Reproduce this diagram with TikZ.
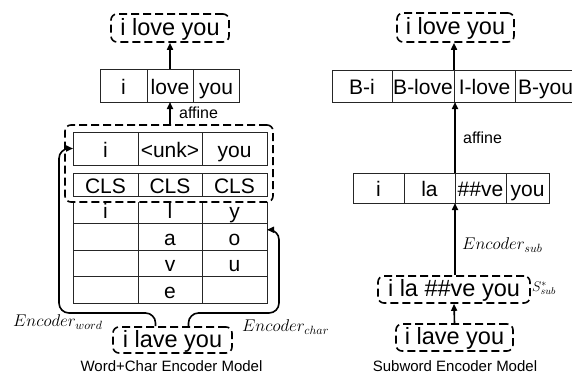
\documentclass[tikz,border=0pt]{standalone}
\usepackage{fix-cm}
\usepackage{fontspec}
\setmainfont{Liberation Sans}
\usepackage{tikz}
\usetikzlibrary{arrows.meta, positioning, calc}

\newcommand{\cellfont}{\fontsize{21}{22}\selectfont}
\newcommand{\boxfont}{\fontsize{23.5}{24}\selectfont}
\newcommand{\lblfont}{\fontsize{16}{17}\selectfont}
\newcommand{\encfont}{\fontsize{17}{18}\selectfont}

\begin{document}
\begin{tikzpicture}[x=1pt, y=-1pt,
    cell/.style={draw=black!85, line width=0.8pt, inner sep=0pt, outer sep=0pt, minimum height=33pt, text height=17pt, text depth=0pt, font=\cellfont},
    dbox/.style={draw, line width=1.6pt, dash pattern=on 8pt off 4pt, rounded corners=6pt, inner sep=0pt, text height=17pt, text depth=3pt, font=\boxfont},
    arr/.style={-{Triangle[length=7pt, width=6pt]}, line width=1.6pt},
    title/.style={font=\fontsize{15}{16}\selectfont},
    enc/.style={font=\encfont, inner sep=0pt},
]
\useasboundingbox (0,0) rectangle (572,373);

% word + char encoder
\node[dbox, minimum width=118pt, minimum height=28pt] (lout) at (170,28) {i love you};
\node[cell, minimum width=47pt, anchor=north west] (wa) at (100,69) {i};
\node[cell, minimum width=46pt, right=0pt of wa] (wb) {love};
\node[cell, minimum width=46pt, right=0pt of wb] (wc) {you};

\foreach \row/\ga/\gb/\gc in {1/i/l/y, 2/{}/a/o, 3/{}/v/u, 4/{}/e/{}} {
  \node[cell, minimum width=65pt, minimum height=26.5pt, anchor=north west] (c\row1) at (73,{197+(\row-1)*26.5}) {\ga};
  \node[cell, minimum width=64pt, minimum height=26.5pt, right=0pt of c\row1] (c\row2) {\gb};
  \node[cell, minimum width=65pt, minimum height=26.5pt, right=0pt of c\row2] (c\row3) {\gc};
}

\node[dbox, fill=white, minimum width=208pt, minimum height=77pt] (grp) at (169,163.5) {};
\node[cell, minimum width=65pt, anchor=north west] (ra) at (73,132) {i};
\node[cell, minimum width=64pt, right=0pt of ra] (rb) {<unk>};
\node[cell, minimum width=65pt, right=0pt of rb] (rc) {you};
\node[cell, minimum width=65pt, minimum height=23pt, anchor=north west] (sa) at (73,173) {CLS};
\node[cell, minimum width=64pt, minimum height=23pt, right=0pt of sa] (sb) {CLS};
\node[cell, minimum width=65pt, minimum height=23pt, right=0pt of sb] (sc) {CLS};

\node[dbox, minimum width=119pt, minimum height=26pt] (lin) at (172.5,340) {i lave you};
\node[title] (ltitle) at (171.5,366) {Word+Char Encoder Model};
\node[enc, anchor=west] (encw) at (13,322) {$Encoder_{word}$};
\node[enc, anchor=west] (encc) at (242,327) {$Encoder_{char}$};

\draw[arr] (wb.north) -- (lout.south);
\draw[arr] (wb.south |- grp.north) -- node[right, xshift=5pt, font=\lblfont] {affine} (wb.south);
\draw[arr, rounded corners=10pt] ([xshift=-17pt]lin.north) |- (59,313) |- (ra.west);
\draw[arr, rounded corners=10pt] ([xshift=16pt]lin.north) |- (279,313) |- ([yshift=7pt]c23.east);

% subword encoder
\node[dbox, minimum width=117pt, minimum height=29pt] (rout) at (455.5,27.5) {i love you};
\node[cell, minimum width=60pt, minimum height=32pt, anchor=north west] (ta) at (332,70) {B-i};
\node[cell, minimum width=62pt, minimum height=32pt, right=0pt of ta] (tb) {B-love};
\node[cell, minimum width=61pt, minimum height=32pt, right=0pt of tb] (tc) {I-love};
\node[cell, minimum width=61pt, minimum height=32pt, right=0pt of tc] (td) {B-you};

\node[cell, minimum width=51pt, minimum height=30pt, anchor=north west] (ua) at (353,173) {i};
\node[cell, minimum width=51pt, minimum height=30pt, right=0pt of ua] (ub) {la};
\node[cell, minimum width=51pt, minimum height=30pt, right=0pt of ub] (uc) {\#\#ve};
\node[cell, minimum width=43pt, minimum height=30pt, right=0pt of uc] (ud) {you};

\node[dbox, minimum width=152pt, minimum height=27pt] (sub) at (454,289.5) {i la \#\#ve you};
\node[enc, anchor=west, font=\fontsize{14}{15}\selectfont] (ssub) at (532,288) {$S^{*}_{sub}$};
\node[dbox, minimum width=117pt, minimum height=27pt] (rin) at (454.5,337.5) {i lave you};
\node[title] (rtitle) at (455,366) {Subword Encoder Model};
\node[enc, anchor=west] (encs) at (462,245) {$Encoder_{sub}$};

\draw[arr] (tc.north west) -- (tc.north west |- rout.south);
\draw[arr] (uc.north west) -- node[right, xshift=4pt, font=\lblfont] {affine} (uc.north west |- tc.south);
\draw[arr] (uc.south west |- sub.north) -- (uc.south west);
\draw[arr] (rin.north) -- (sub.south);
\end{tikzpicture}
\end{document}
